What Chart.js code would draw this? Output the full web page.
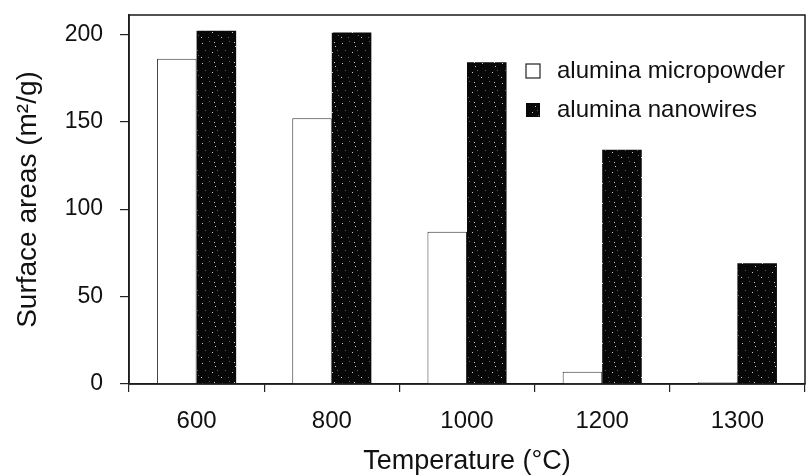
<!DOCTYPE html>
<html>
<head>
<meta charset="utf-8">
<script src="https://cdn.jsdelivr.net/npm/chart.js@4.4.1/dist/chart.umd.min.js"></script>
<style>
  html, body { margin: 0; padding: 0; background: #fff; }
  #wrap { width: 806px; height: 475px; }
</style>
</head>
<body>
<div id="wrap"><canvas id="c" width="806" height="475"></canvas></div>
<script>
const categories = ['600', '800', '1000', '1200', '1300'];
const micropowder = [186, 152, 87, 7, 1];
const nanowires = [202, 201, 184, 134, 69];
const seriesNames = ['alumina micropowder', 'alumina nanowires'];
const yTicks = [0, 50, 100, 150, 200];

function speckle() {
  const p = document.createElement('canvas');
  p.width = 20; p.height = 20;
  const g = p.getContext('2d');
  g.fillStyle = '#080808';
  g.fillRect(0, 0, 20, 20);
  const dots = [[2,3],[9,1],[15,6],[5,10],[12,12],[18,15],[1,17],[8,17],[14,2],[17,10]];
  dots.forEach(([x, y], i) => {
    g.fillStyle = i % 2 === 0 ? 'rgba(255,255,255,0.8)' : 'rgba(190,190,190,0.5)';
    g.fillRect(x, y, 1, 1);
  });
  return g.createPattern(p, 'repeat');
}

const ctx = document.getElementById('c').getContext('2d');
const pat = speckle();
const FONT = "'Liberation Sans', Arial, Helvetica, sans-serif";

const framePlugin = {
  id: 'frame',
  afterDraw(chart) {
    const { ctx, chartArea: a } = chart;
    ctx.save();
    ctx.strokeStyle = '#1a1a1a';
    ctx.lineWidth = 1.5;
    ctx.strokeRect(a.left, a.top, a.right - a.left, a.bottom - a.top);
    // legend
    const bx = a.left + 397, tx = a.left + 428;
    const rows = [a.top + 56, a.top + 95];
    ctx.font = "24px " + FONT;
    ctx.textBaseline = 'middle';
    rows.forEach((ry, i) => {
      if (i === 0) {
        ctx.fillStyle = '#fff';
        ctx.fillRect(bx, ry - 7, 14, 14);
        ctx.strokeStyle = '#222';
        ctx.lineWidth = 1.2;
        ctx.strokeRect(bx, ry - 7, 14, 14);
      } else {
        ctx.fillStyle = pat;
        ctx.fillRect(bx, ry - 7, 14, 14);
      }
      ctx.fillStyle = '#111';
      ctx.fillText(seriesNames[i], tx, ry);
    });
    ctx.restore();
  }
};

new Chart(ctx, {
  type: 'bar',
  data: {
    labels: categories,
    datasets: [
      { label: seriesNames[0], data: micropowder, backgroundColor: '#fff', borderColor: '#333', borderWidth: 1,
        categoryPercentage: 0.585, barPercentage: 1.0 },
      { label: seriesNames[1], data: nanowires, backgroundColor: pat, borderColor: '#080808', borderWidth: 0,
        categoryPercentage: 0.585, barPercentage: 1.0 }
    ]
  },
  options: {
    responsive: false,
    animation: false,
    devicePixelRatio: 1,
    layout: { padding: { top: 15, right: 1, left: 0, bottom: 0 } },
    plugins: { legend: { display: false }, tooltip: { enabled: false } },
    scales: {
      x: {
        grid: { offset: true, drawOnChartArea: false, tickLength: 8, color: '#222', lineWidth: 1.2 },
        border: { display: true, color: '#222', width: 1.5 },
        ticks: { color: '#111', font: { family: FONT, size: 24 }, padding: 15, maxRotation: 0 },
        title: { display: true, text: 'Temperature (°C)', color: '#111',
                 font: { family: FONT, size: 27, lineHeight: 1 }, padding: { top: 0, bottom: 0 } },
        afterFit(s) { s.height = 91; s.paddingLeft = 0; s.paddingRight = 0; }
      },
      y: {
        min: 0, max: 211,
        afterBuildTicks(s) { s.ticks = yTicks.map(v => ({ value: v })); },
        grid: { drawOnChartArea: false, tickLength: 9, color: '#222', lineWidth: 1.2 },
        border: { display: true, color: '#222', width: 1.5 },
        ticks: { color: '#111', font: { family: FONT, size: 23 }, padding: 17 },
        title: { display: true, text: 'Surface areas (m²/g)', color: '#111',
                 font: { family: FONT, size: 28, lineHeight: 1 }, padding: { top: 14, bottom: 0 } },
        afterFit(s) { s.width = 129; s.paddingTop = 0; s.paddingBottom = 0; }
      }
    }
  },
  plugins: [framePlugin]
});
</script>
</body>
</html>
